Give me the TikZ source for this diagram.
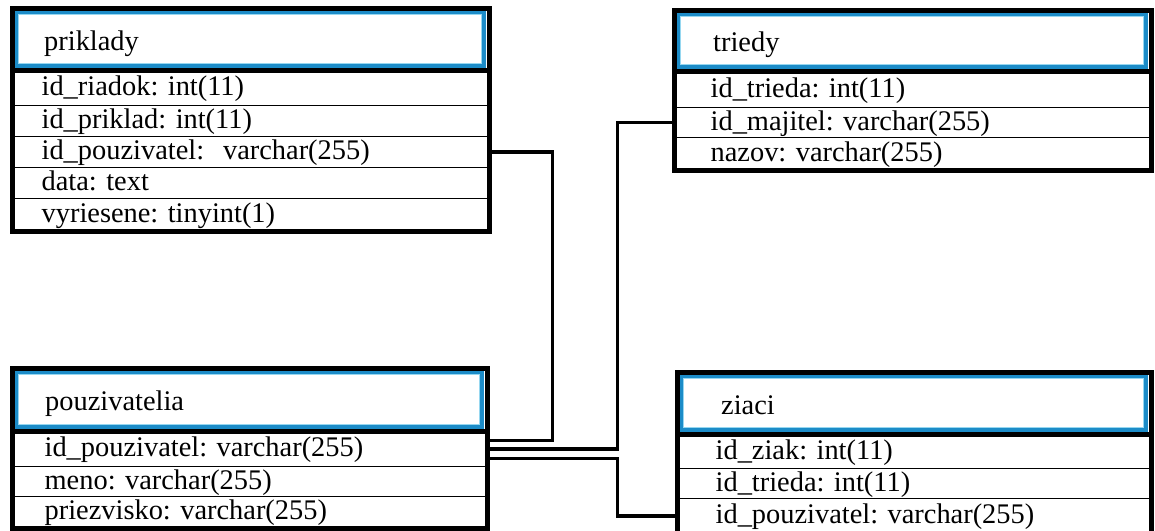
\documentclass[tikz,border=0pt]{standalone}
\usepackage{fontspec}
\setmainfont{Liberation Serif}
\usetikzlibrary{calc}
\frenchspacing
\definecolor{hdrblue}{RGB}{28,140,200}
\definecolor{hdrlight}{RGB}{150,215,240}
\newcommand\tbfont{\fontsize{28.4pt}{30pt}\selectfont\frenchspacing}
\tikzset{
  rowcell/.style={draw=black, line width=1.3pt, inner ysep=0pt, align=left,
    text height=20pt, text depth=5pt, anchor=north west, font=\tbfont},
  hdrcell/.style={fill=white, inner ysep=0pt, align=left,
    text height=24pt, text depth=2pt, anchor=north west, font=\tbfont},
  tframe/.style={draw=black, line width=5pt},
  bluefr/.style={draw=hdrblue, line width=4pt},
  lightfr/.style={draw=hdrlight, line width=1.2pt},
  conn/.style={draw=black, line width=3.5pt, line join=miter},
}
% \trow{name}{x}{y}{height}{textwidth}{xsep}{text}
\newcommand\trow[7]{\node[rowcell, minimum height=#4pt, text width=#5pt, inner xsep=#6pt] (#1) at (#2,#3) {#7};}
\newcommand\thdr[7]{\node[hdrcell, minimum height=#4pt, text width=#5pt, inner xsep=#6pt] (#1) at (#2,#3) {#7};
  \draw[bluefr] ([shift={(4.2,4.2)}]#1.north west) rectangle ([shift={(-4.2,-4.2)}]#1.south east);
  \draw[lightfr] ([shift={(6.8,6.8)}]#1.north west) rectangle ([shift={(-6.8,-6.8)}]#1.south east);}
\begin{document}
\begin{tikzpicture}[x=1pt,y=-1pt]
\useasboundingbox (0,0) rectangle (1155,530);
\clip (0,0) rectangle (1155,530);
\fill[white] (0,0) rectangle (1155,530);

% priklady
\trow{p1}{12}{70}{35}{418}{29}{id\_riadok: int(11)}
\trow{p2}{12}{105}{31}{418}{29}{id\_priklad: int(11)}
\trow{p3}{12}{136}{31}{418}{29}{id\_pouzivatel:\ \ varchar(255)}
\trow{p4}{12}{167}{31}{418}{29}{data: text}
\trow{p5}{12}{198}{32}{418}{29}{vyriesene: tinyint(1)}
\thdr{ph}{12}{8}{62}{412}{32}{priklady}
\draw[tframe] (ph.north west) rectangle (p5.south east);
\draw[tframe] (ph.south west) -- (ph.south east);

% triedy
\trow{t1}{674}{71}{36}{404}{36}{id\_trieda: int(11)}
\trow{t2}{674}{107}{30}{404}{36}{id\_majitel: varchar(255)}
\trow{t3}{674}{137}{32}{404}{36}{nazov: varchar(255)}
\thdr{th}{674}{10}{61}{398}{39}{triedy}
\draw[tframe] (th.north west) rectangle (t3.south east);
\draw[tframe] (th.south west) -- (th.south east);

% pouzivatelia
\trow{u1}{12}{431}{35}{410}{32}{id\_pouzivatel: varchar(255)}
\trow{u2}{12}{466}{30}{410}{32}{meno: varchar(255)}
\trow{u3}{12}{496}{31}{410}{32}{priezvisko: varchar(255)}
\thdr{uh}{12}{368}{63}{408}{33}{pouzivatelia}
\draw[tframe] (uh.north west) rectangle (u3.south east);
\draw[tframe] (uh.south west) -- (uh.south east);

% ziaci
\trow{z1}{677}{434}{34}{397}{38}{id\_ziak: int(11)}
\trow{z2}{677}{468}{30}{397}{38}{id\_trieda: int(11)}
\trow{z3}{677}{498}{35}{397}{38}{id\_pouzivatel: varchar(255)}
\thdr{zh}{677}{372}{62}{385}{44}{ziaci}
\draw[tframe] (zh.north west) rectangle (z3.south east);
\draw[tframe] (zh.south west) -- (zh.south east);

% connectors
\coordinate (k1) at ($(u1.east)+(65,-8.5)$);
\coordinate (k2) at ($(u1.east)+(130,0)$);
\coordinate (k3) at ($(u1.east)+(130,9.5)$);
\draw[conn] (p3.east) -| (k1) -- (k1 -| u1.east);
\draw[conn] (t2.west) -| (k2) -- (u1.east);
\draw[conn] (k3 -| u1.east) -- (k3) |- (z3.west);
\end{tikzpicture}
\end{document}
